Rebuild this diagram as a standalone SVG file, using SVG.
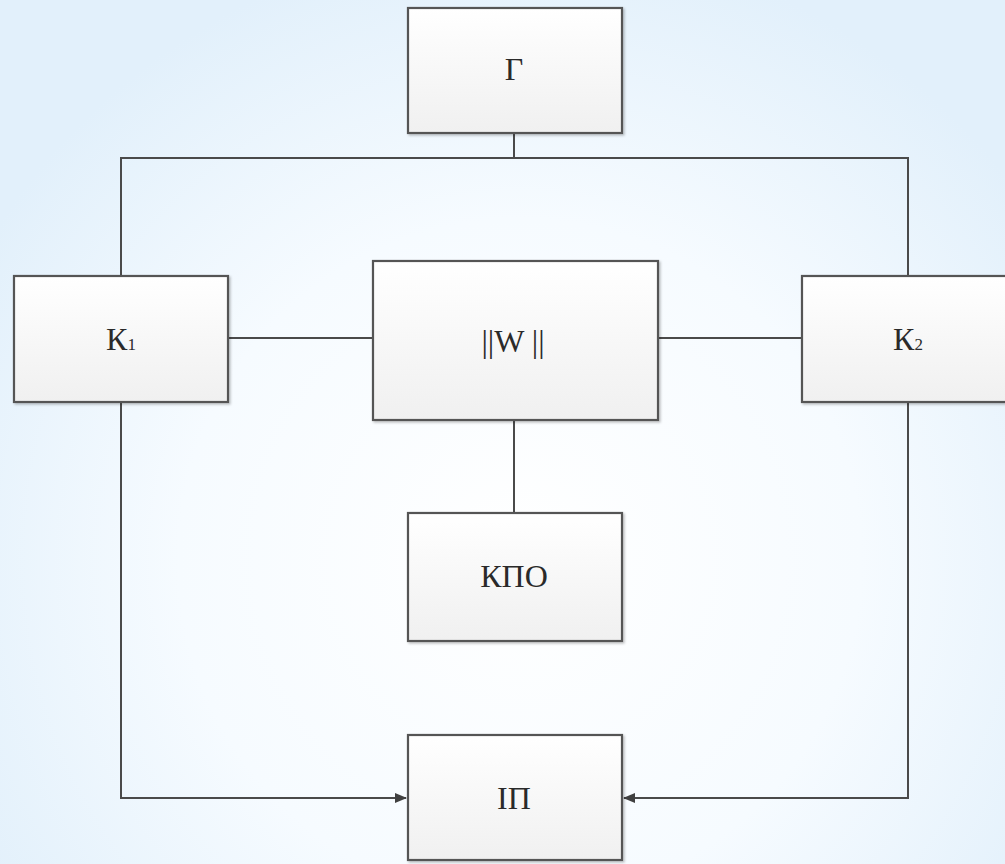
<svg xmlns="http://www.w3.org/2000/svg" width="1005" height="864" viewBox="0 0 1005 864">
<style>
.box{fill:url(#boxg);stroke:#555555;stroke-width:2.2;filter:url(#sh)}
.lbl{font-family:"Liberation Serif","Times New Roman",serif;font-size:32px;fill:#2a2a2a;text-anchor:middle}
.sub{font-size:17px}
.conn{fill:none;stroke:#4a4a4a;stroke-width:2}
</style>
<defs>
<radialGradient id="bg" cx="520" cy="560" r="620" gradientUnits="userSpaceOnUse">
<stop offset="0" stop-color="#ffffff"/>
<stop offset="0.55" stop-color="#f6fbff"/>
<stop offset="1" stop-color="#e2f0fb"/>
</radialGradient>
<linearGradient id="boxg" x1="0" y1="0" x2="0" y2="1">
<stop offset="0" stop-color="#ffffff"/>
<stop offset="1" stop-color="#f0f0f0"/>
</linearGradient>
<filter id="sh" x="-5%" y="-5%" width="110%" height="110%">
<feDropShadow dx="1.5" dy="1.5" stdDeviation="1.2" flood-color="#000" flood-opacity="0.25"/>
</filter>
<marker id="arr" markerWidth="12" markerHeight="10" refX="11" refY="5" orient="auto" markerUnits="userSpaceOnUse">
<path d="M0,0 L12,5 L0,10 Z" fill="#404040"/>
</marker>
</defs>
<rect width="1005" height="864" fill="url(#bg)"/>
<g id="connectors">
<path class="conn" d="M514,134 V158"/>
<path class="conn" d="M121,275 V158 H908 V275"/>
<path class="conn" d="M229,338 H373"/>
<path class="conn" d="M658,338 H802"/>
<path class="conn" d="M514,420 V513"/>
<path class="conn" d="M121,403 V798 H406" marker-end="url(#arr)"/>
<path class="conn" d="M908,403 V798 H624" marker-end="url(#arr)"/>
</g>
<g id="node-G">
<rect class="box" x="408" y="8" width="214" height="125"/>
<text class="lbl" x="514" y="80">Γ</text>
</g>
<g id="node-K1">
<rect class="box" x="14" y="276" width="214" height="126"/>
<text class="lbl" x="121" y="350">К<tspan class="sub">1</tspan></text>
</g>
<g id="node-W">
<rect class="box" x="373" y="261" width="285" height="159"/>
<text class="lbl" x="513" y="352">||W ||</text>
</g>
<g id="node-K2">
<rect class="box" x="802" y="276" width="214" height="126"/>
<text class="lbl" x="908" y="350">К<tspan class="sub">2</tspan></text>
</g>
<g id="node-KPO">
<rect class="box" x="408" y="513" width="214" height="128"/>
<text class="lbl" x="514" y="587">КПО</text>
</g>
<g id="node-IP">
<rect class="box" x="408" y="735" width="214" height="125"/>
<text class="lbl" x="514" y="809">IП</text>
</g>
</svg>
